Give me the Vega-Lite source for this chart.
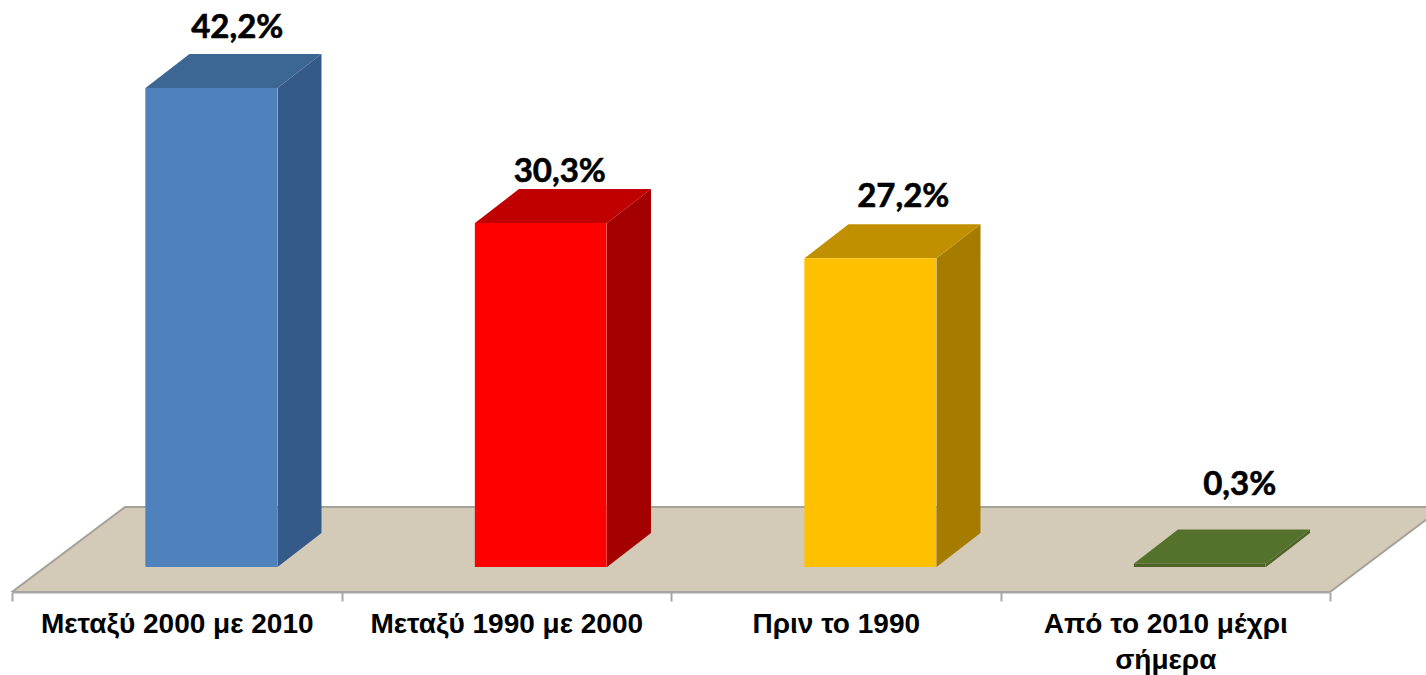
{
"$schema":"https://vega.github.io/schema/vega-lite/v6.json",
"width":1426,"height":592,
"autosize":{"type":"none"},
"padding":{"left":0,"top":0,"right":0,"bottom":83},
"background":"white",
"config":{"view":{"stroke":null}},
"datasets":{
"shares":[
{"period":"Μεταξύ 2000 με 2010","share":42.2,"order":0},
{"period":"Μεταξύ 1990 με 2000","share":30.3,"order":1},
{"period":"Πριν το 1990","share":27.2,"order":2},
{"period":"Από το 2010 μέχρι σήμερα","share":0.3,"order":3}
],
"floor":[
{"across":0,"front":-2.2,"back":-2.2},
{"across":0.343,"front":-2.2,"back":5.286},
{"across":4,"front":-2.2,"back":5.286},
{"across":4.343,"front":5.286,"back":5.286}
]
},
"resolve":{"scale":{"x":"independent","color":"independent"}},
"layer":[
{
"data":{"name":"floor"},
"mark":{"type":"area","color":"#d3cab8","stroke":"#a5a299","strokeWidth":2,"clip":true},
"encoding":{
"x":{"field":"across","type":"quantitative","axis":null,"scale":{"domain":[-0.0364,4.2914],"range":[0,1426]}},
"y":{"field":"front","type":"quantitative","axis":null,"scale":{"domain":[-2.2026,49.956],"range":[592,0],"nice":false,"zero":false}},
"y2":{"field":"back"}
}
},
{
"data":{"name":"shares"},
"transform":[
{"calculate":"[0,1]","as":"t"},
{"flatten":["t"]},
{"calculate":"datum.order+0.8058+0.1335*datum.t","as":"across"},
{"calculate":"2.996*datum.t","as":"low"},
{"calculate":"datum.share+2.996*datum.t","as":"high"}
],
"mark":{"type":"area","interpolate":"linear"},
"encoding":{
"x":{"field":"across","type":"quantitative","axis":null,"scale":{"domain":[-0.0364,4.2914],"range":[0,1426]}},
"y":{"field":"low","type":"quantitative","axis":null,"scale":{"domain":[-2.2026,49.956],"range":[592,0],"nice":false,"zero":false}},
"y2":{"field":"high"},
"detail":{"field":"period"},
"color":{"field":"period","type":"nominal","legend":null,"scale":{"domain":["Μεταξύ 2000 με 2010","Μεταξύ 1990 με 2000","Πριν το 1990","Από το 2010 μέχρι σήμερα"],"range":["#345a8a","#a50000","#a67c00","#4f6228"]}}
}
},
{
"data":{"name":"shares"},
"transform":[
{"calculate":"[0,1,2,3]","as":"t"},
{"flatten":["t"]},
{"calculate":"datum.order+0.4052+[0,0.1335,0.4006,0.5341][datum.t]","as":"across"},
{"calculate":"datum.share+(datum.t==3?2.996:0)","as":"low"},
{"calculate":"datum.share+(datum.t==0?0:2.996)","as":"high"}
],
"mark":{"type":"area","interpolate":"linear"},
"encoding":{
"x":{"field":"across","type":"quantitative","axis":null,"scale":{"domain":[-0.0364,4.2914],"range":[0,1426]}},
"y":{"field":"low","type":"quantitative","axis":null,"scale":{"domain":[-2.2026,49.956],"range":[592,0],"nice":false,"zero":false}},
"y2":{"field":"high"},
"detail":{"field":"period"},
"color":{"field":"period","type":"nominal","legend":null,"scale":{"domain":["Μεταξύ 2000 με 2010","Μεταξύ 1990 με 2000","Πριν το 1990","Από το 2010 μέχρι σήμερα"],"range":["#3c6694","#c00000","#c09000","#55722c"]}}
}
},
{
"data":{"name":"shares"},
"mark":{"type":"bar","xOffset":34.5,"width":{"band":0.4}},
"encoding":{
"x":{"field":"period","type":"nominal","sort":null,"title":null,
"scale":{"range":[12,1330],"paddingInner":0,"paddingOuter":0},
"axis":{"orient":"bottom","zindex":1,"tickBand":"extent","labelAngle":0,"labelAlign":"center","labelFont":"Liberation Sans","labelFontWeight":"bold","labelFontSize":28,"labelColor":"black","labelPadding":9,"labelLimit":0,"labelLineHeight":36,"labelBaseline":"top","domainColor":"#a6a6a6","domainWidth":2,"tickColor":"#a6a6a6","tickWidth":2,"tickSize":9,"grid":false,
"labelExpr":"datum.label=='Από το 2010 μέχρι σήμερα'?['Από το 2010 μέχρι','σήμερα']:datum.label"}},
"y":{"field":"share","type":"quantitative","axis":null,"stack":null,"scale":{"domain":[-2.2026,49.956],"range":[592,0],"nice":false,"zero":false}},
"y2":{"datum":0},
"color":{"field":"period","type":"nominal","legend":null,"scale":{"domain":["Μεταξύ 2000 με 2010","Μεταξύ 1990 με 2000","Πριν το 1990","Από το 2010 μέχρι σήμερα"],"range":["#4f81bd","#ff0000","#ffc000","#4f6228"]}}
}
},
{
"data":{"name":"shares"},
"transform":[{"calculate":"replace(format(datum.share,'.1f'),'.',',')+'%'","as":"label"}],
"mark":{"type":"text","font":"Lato","fontWeight":"bold","fontSize":33,"color":"black","stroke":"black","strokeWidth":0.6,"baseline":"middle","align":"center",
"dx":{"expr":"34.5+[26,19,33,40][datum.order]"},
"dy":{"expr":"[-60,-51,-61,-79][datum.order]"}},
"encoding":{
"x":{"field":"period","type":"nominal","sort":null,"axis":null,
"scale":{"range":[12,1330],"paddingInner":0,"paddingOuter":0}},
"y":{"field":"share","type":"quantitative","axis":null,"scale":{"domain":[-2.2026,49.956],"range":[592,0],"nice":false,"zero":false}},
"text":{"field":"label"}
}
}
]
}
